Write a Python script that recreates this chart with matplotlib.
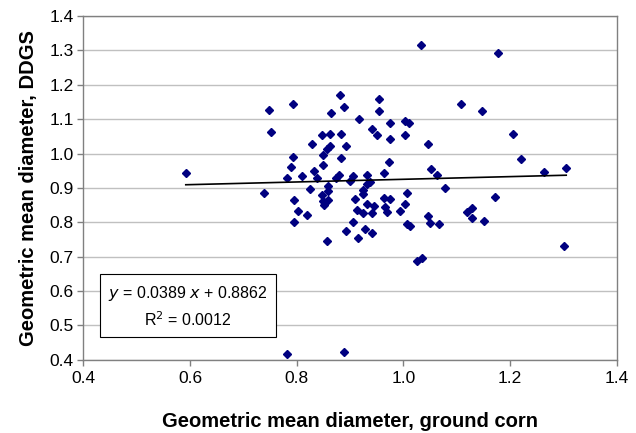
import matplotlib
matplotlib.use("Agg")
import matplotlib.pyplot as plt
import numpy as np

plt.rcParams['font.family'] = ['Liberation Sans', 'DejaVu Sans']

corn_gmd = [
    0.592, 0.739, 0.748, 0.752, 0.781, 0.889, 1.025, 1.034, 1.301, 1.0325,
    1.177, 1.108, 1.147, 1.206, 1.220, 1.2625, 1.305, 1.171,
    0.7925, 0.881, 0.889, 0.864, 0.916, 0.955, 0.955, 0.847, 0.8625, 0.8825,
    0.941, 0.950, 0.829, 0.8625, 0.856, 0.8925, 0.850, 0.7925, 0.883, 0.850,
    0.789, 0.8325, 0.781, 0.809, 0.8375, 0.880, 0.874, 0.905, 0.900, 0.931,
    0.931, 0.9375, 0.824, 0.858, 0.859, 0.794, 0.847, 0.850, 0.859, 0.851,
    0.909, 0.924, 0.925, 0.803, 0.819, 0.795, 0.9125, 0.9325, 0.925, 0.941,
    0.945, 0.905, 0.8925, 0.914, 0.928, 0.941, 0.856,
    0.975, 1.003, 1.0095, 0.975, 1.002, 1.046, 0.973, 0.963, 1.052, 1.063,
    1.077, 0.963, 0.975, 1.006, 0.966, 0.969, 0.994, 1.002, 1.006, 1.013,
    1.046, 1.049, 1.067, 1.119, 1.128, 1.128, 1.150,
]
ddgs_gmd = [
    0.944, 0.886, 1.128, 1.063, 0.417, 0.424, 0.687, 0.697, 0.732, 1.317,
    1.291, 1.145, 1.124, 1.058, 0.984, 0.947, 0.958, 0.875,
    1.145, 1.170, 1.134, 1.119, 1.100, 1.158, 1.125, 1.055, 1.058, 1.056,
    1.070, 1.055, 1.027, 1.022, 1.014, 1.021, 0.995, 0.990, 0.987, 0.968,
    0.961, 0.948, 0.930, 0.934, 0.930, 0.938, 0.930, 0.934, 0.920, 0.938,
    0.910, 0.917, 0.898, 0.905, 0.890, 0.864, 0.878, 0.862, 0.864, 0.849,
    0.868, 0.883, 0.893, 0.834, 0.822, 0.800, 0.836, 0.854, 0.827, 0.827,
    0.846, 0.802, 0.776, 0.754, 0.781, 0.769, 0.747,
    1.090, 1.095, 1.090, 1.043, 1.055, 1.027, 0.975, 0.944, 0.954, 0.938,
    0.900, 0.871, 0.868, 0.886, 0.844, 0.830, 0.832, 0.852, 0.794, 0.788,
    0.817, 0.798, 0.796, 0.830, 0.841, 0.812, 0.803,
]
slope = 0.0389
intercept = 0.8862
r_squared = 0.0012

x_ticks = [0.4, 0.6, 0.8, 1.0, 1.2, 1.4]
y_ticks = [0.4, 0.5, 0.6, 0.7, 0.8, 0.9, 1.0, 1.1, 1.2, 1.3, 1.4]

fig = plt.figure(figsize=(6.36, 4.33), dpi=100)
ax = fig.add_axes([0.131, 0.169, 0.839, 0.794])

ax.set_xlim(0.4, 1.4)
ax.set_ylim(0.4, 1.4)
ax.set_yticks(y_ticks)
ax.set_xticks(x_ticks)
ax.set_xticklabels([f"{v:.1f}" for v in x_ticks])
ax.set_yticklabels([f"{v:.1f}" for v in y_ticks])
ax.yaxis.grid(True, color='#c0c0c0', linewidth=1.0)
ax.set_axisbelow(True)
for s in ax.spines.values():
    s.set_color('#808080')
    s.set_linewidth(1.0)
ax.tick_params(axis='both', direction='out', length=4, width=1, color='#808080',
               labelsize=12.5)
ax.tick_params(axis='x', pad=4)
ax.tick_params(axis='y', pad=3)

ax.plot(corn_gmd, ddgs_gmd, linestyle='none', marker='D', markersize=4.2,
        color='#000080', markeredgecolor='#000080')

xs = np.array([min(corn_gmd), max(corn_gmd)])
ax.plot(xs, slope * xs + intercept, color='black', linewidth=1.2)

ax.set_xlabel('Geometric mean diameter, ground corn', fontsize=14.5, fontweight='bold', labelpad=19)
ax.set_ylabel('Geometric mean diameter, DDGS', fontsize=14.5, fontweight='bold', labelpad=8)

eq = f"$\\it{{y}}$ = {slope:.4f} $\\it{{x}}$ + {intercept:.4f}\nR$^2$ = {r_squared:.4f}"
ax.text(0.596, 0.555, eq, ha='center', va='center', fontsize=11.5, linespacing=1.45,
        bbox=dict(boxstyle='square,pad=0.5', facecolor='white', edgecolor='black', linewidth=0.8),
        multialignment='center')

fig.savefig('out.png', dpi=100)
